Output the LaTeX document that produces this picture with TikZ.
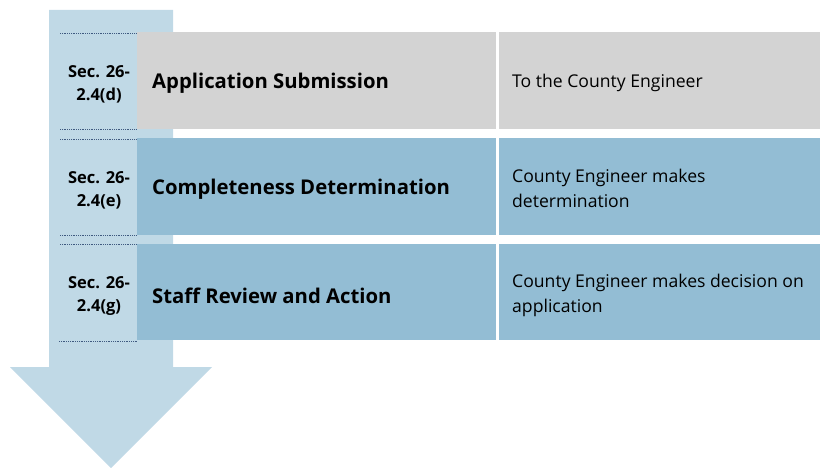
\documentclass[tikz,border=0pt]{standalone}
\usepackage{fontspec}
\setmainfont{Open Sans}
\definecolor{shaftblue}{HTML}{C0D9E6}
\definecolor{rowgray}{HTML}{D3D3D3}
\definecolor{rowblue}{HTML}{93BDD4}
\definecolor{dotcol}{HTML}{3F5A80}
\tikzset{
  secdot/.style={draw=dotcol, line width=0.9pt, dash pattern=on 0.9pt off 0.9pt},
  sectext/.style={font=\fontsize{16.5}{23}\selectfont\bfseries, align=center, anchor=center, inner sep=0},
  titletext/.style={font=\fontsize{20.3}{24}\selectfont\bfseries, anchor=west, inner sep=0},
  desctext/.style={font=\fontsize{17.6}{25}\selectfont, anchor=west, align=left, inner sep=0}
}
\begin{document}
\begin{tikzpicture}[x=1pt,y=-1pt]
\useasboundingbox (0,0) rectangle (820,468);
% big arrow
\fill[shaftblue] (49,10) -- (173,10) -- (173,367) -- (212,367) -- (111,468) -- (10,367) -- (49,367) -- cycle;
% rows
\fill[rowgray] (137,32) rectangle (496,129);
\fill[rowgray] (499,32) rectangle (820,129);
\fill[rowblue] (137,138) rectangle (496,235);
\fill[rowblue] (499,138) rectangle (820,235);
\fill[rowblue] (137,244) rectangle (496,340);
\fill[rowblue] (499,244) rectangle (820,340);
% dotted lines
\coordinate (d1a) at (60,33);  \coordinate (d1b) at (137,33);
\coordinate (d2a) at (60,129); \coordinate (d2b) at (137,129);
\coordinate (d3a) at (60,139); \coordinate (d3b) at (137,139);
\coordinate (d4a) at (60,235); \coordinate (d4b) at (137,235);
\coordinate (d5a) at (60,244); \coordinate (d5b) at (137,244);
\coordinate (d6a) at (59,341); \coordinate (d6b) at (137,341);
\draw[secdot] (d1a) -- (d1b);
\draw[secdot] (d2a) -- (d2b);
\draw[secdot] (d3a) -- (d3b);
\draw[secdot] (d4a) -- (d4b);
\draw[secdot] (d5a) -- (d5b);
\draw[secdot] (d6a) -- (d6b);
% section labels
\node[sectext] (s1) at (99,84) {Sec. 26-\\2.4(d)};
\node[sectext] (s2) at (99,190) {Sec. 26-\\2.4(e)};
\node[sectext] (s3) at (99,296) {Sec. 26-\\2.4(g)};
% titles
\node[titletext] (t1) at (152,83) {Application Submission};
\node[titletext] (t2) at (152,189) {Completeness Determination};
\node[titletext] (t3) at (152,296) {Staff Review and Action};
% descriptions
\node[desctext] (r1) at (512,83) {To the County Engineer};
\node[desctext] (r2) at (512,188) {County Engineer makes\\determination};
\node[desctext] (r3) at (512,295) {County Engineer makes decision on\\application};
\end{tikzpicture}
\end{document}
